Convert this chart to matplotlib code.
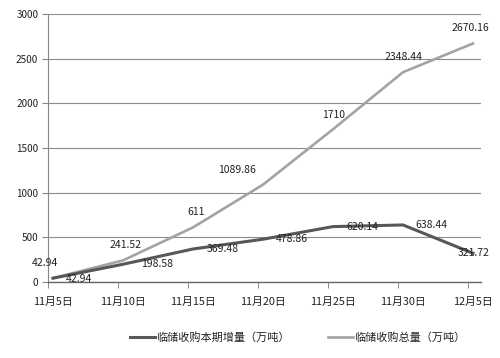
import matplotlib
matplotlib.use('Agg')
import matplotlib.pyplot as plt
from matplotlib.ticker import FixedLocator

plt.rcParams['font.family'] = ['Noto Sans CJK SC', 'DejaVu Sans']

dates = ["11月5日", "11月10日", "11月15日", "11月20日", "11月25日", "11月30日", "12月5日"]
increment = [42.94, 198.58, 369.48, 478.86, 620.14, 638.44, 321.72]
total = [42.94, 241.52, 611, 1089.86, 1710, 2348.44, 2670.16]
inc_name = "临储收购本期增量（万吨）"
tot_name = "临储收购总量（万吨）"

# label offsets in pixels (dx, dy)
inc_off = [(26, -1), (34, 0), (30, 0), (29, 0), (29, 0), (28, 0), (1, 0)]
tot_off = [(-8, 15), (3, 15), (3, 15), (-26, 15), (1, 14), (1, 15), (-3, 15)]

DARK = '#575757'
LIGHT = '#a3a3a3'
PX = 0.72  # points per pixel at dpi 100

fig = plt.figure(figsize=(5.0, 3.58), dpi=100)
ax = fig.add_axes([0.096, 0.2123, 0.866, 0.7486])

x = list(range(len(dates)))
ax.plot(x, total, color=LIGHT, lw=1.9, solid_joinstyle='round', label=tot_name, zorder=3)
ax.plot(x, increment, color=DARK, lw=2.2, solid_joinstyle='round', label=inc_name, zorder=4)

for i, v in enumerate(total):
    dx, dy = tot_off[i]
    ax.annotate(f'{v:g}', (i, v), xytext=(dx * PX, dy * PX), textcoords='offset points',
                ha='center', va='center', fontsize=7.5, color='#222222', zorder=5)
for i, v in enumerate(increment):
    dx, dy = inc_off[i]
    ax.annotate(f'{v:g}', (i, v), xytext=(dx * PX, dy * PX), textcoords='offset points',
                ha='center', va='center', fontsize=7.5, color='#222222', zorder=5)

step = 5 / 70
ax.set_xlim(-step, 6.114)
ax.set_ylim(0, 3000)
ax.set_yticks(range(0, 3001, 500))
ax.set_xticks(x)
ax.set_xticklabels(dates, fontsize=7.8, color='#222222')
ax.xaxis.set_minor_locator(FixedLocator([i - step for i in x]))
ax.tick_params(axis='x', which='major', length=0, pad=11)
ax.tick_params(axis='x', which='minor', length=4, color='#777777', direction='out')
ax.tick_params(axis='y', length=4, color='#888888', labelsize=7.2, labelcolor='#222222', pad=3)

ax.grid(True, axis='y', color='#8c8c8c', lw=0.8)
ax.set_axisbelow(True)
for s in ['top', 'right']:
    ax.spines[s].set_visible(False)
ax.spines['left'].set_color('#888888')
ax.spines['bottom'].set_color('#666666')
ax.spines['left'].set_linewidth(0.8)
ax.spines['bottom'].set_linewidth(1.0)

handles, labels = ax.get_legend_handles_labels()
leg = fig.legend(handles[::-1], labels[::-1], loc='center', bbox_to_anchor=(0.595, 0.056),
                 ncol=2, frameon=False, fontsize=8, handlelength=2.2, handletextpad=0.1,
                 columnspacing=3.5)
for t in leg.get_texts():
    t.set_color('#222222')

fig.savefig('out.png', dpi=100)
